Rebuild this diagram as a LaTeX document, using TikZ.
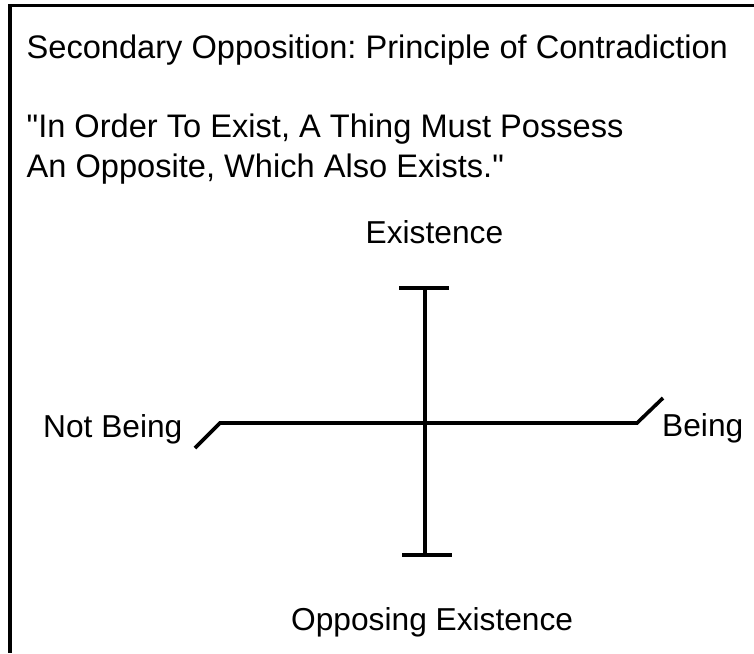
\documentclass[tikz,border=0pt]{standalone}
\usepackage{fontspec}
\setmainfont{Liberation Sans}
\usepackage{tikz}
\usetikzlibrary{positioning, calc}
\frenchspacing

\begin{document}
\begin{tikzpicture}[
    x=1pt, y=-1pt,
    txt/.style={anchor=base west, inner sep=0pt, font=\fontsize{32.6}{40}\selectfont},
    lbl/.style={anchor=base west, inner sep=0pt, font=\fontsize{31.7}{40}\selectfont},
    rule/.style={line width=3.6pt},
    bar/.style={line width=4.6pt}
  ]
  \useasboundingbox (0,0) rectangle (754,653);

  % frame (top and left edges only)
  \draw[rule] (8,5.5) -- (754,5.5);
  \draw[rule] (10,4) -- (10,653);

  \node[txt] (title) at (26.5,58) {Secondary Opposition: Principle of Contradiction};
  \node[txt] (quoteA) at (26.5,137) {\textquotedbl In Order To Exist, A Thing Must Possess};
  \node[txt] (quoteB) at (26.5,177) {An Opposite, Which Also Exists.\textquotedbl};

  \node[lbl] (exist) at (365.5,243) {Existence};
  \node[lbl] (notbeing) at (43,437) {Not Being};
  \node[lbl] (being) at (662,436) {Being};
  \node[lbl] (opposing) at (291,630) {Opposing Existence};

  % axes
  \coordinate (top) at (425,288);
  \coordinate (bot) at (425,555);
  \coordinate (lft) at (220,423);
  \coordinate (rgt) at (637,423);
  \coordinate (lftend) at (195,448);
  \coordinate (rgtend) at (663,398);

  \draw[rule] (top) -- (bot);
  \draw[bar] ($(top)+(-26,0)$) -- ($(top)+(24,0)$);
  \draw[rule] ($(bot)+(-23,0)$) -- ($(bot)+(27,0)$);
  \draw[rule] (lftend) -- (lft) -- (rgt) -- (rgtend);
\end{tikzpicture}
\end{document}
